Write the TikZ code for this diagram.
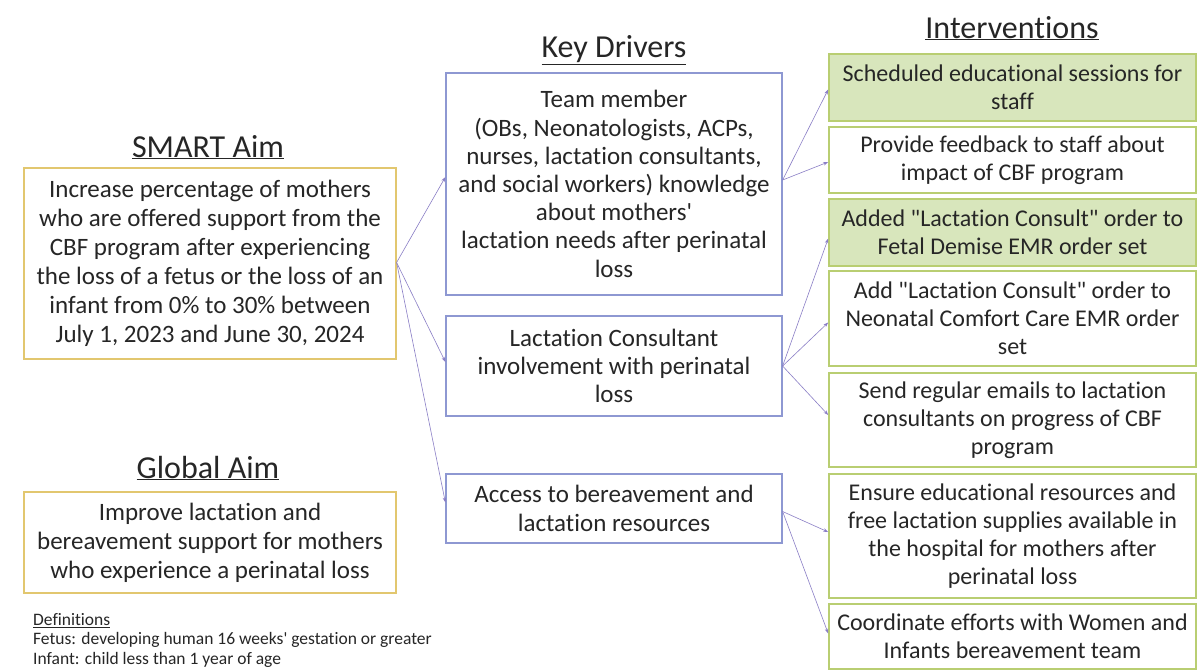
\documentclass[tikz,border=0pt]{standalone}
\usepackage{fontspec}
\setmainfont{Carlito}[Ligatures=NoCommon]
\usetikzlibrary{arrows.meta}
\definecolor{aimborder}{HTML}{E2C76F}
\definecolor{drvborder}{HTML}{8E98D2}
\definecolor{intborder}{HTML}{B9CE72}
\definecolor{intfill}{HTML}{D8E6BC}
\definecolor{linkcol}{HTML}{8A7EC6}
\definecolor{ink}{HTML}{262626}
\newcommand{\sq}{\textquotesingle}
\newcommand{\dq}{\textquotedbl}
\begin{document}
\begin{tikzpicture}[x=1pt,y=-1pt,
  box/.style={draw, line width=1.2pt, align=center, inner sep=0pt, text=ink,
    font=\fontsize{25}{29}\selectfont},
  aimbox/.style={box, draw=aimborder},
  drvbox/.style={box, draw=drvborder, font=\fontsize{25}{28.2}\selectfont},
  intbox/.style={box, draw=intborder, line width=1.6pt, font=\fontsize{24}{28}\selectfont},
  greenbox/.style={intbox, fill=intfill},
  hdr/.style={text=ink, font=\fontsize{32}{34}\selectfont, inner sep=0pt, anchor=base},
  defs/.style={text=ink, font=\fontsize{17.5}{19.5}\selectfont, inner sep=0pt, align=left, anchor=north west},
  link/.style={draw=linkcol, line width=0.6pt, -{Stealth[length=5pt,width=3.5pt]}}
]
\useasboundingbox (0,0) rectangle (1198,669);
\fill[white] (0,0) rectangle (1198,669);

% headings
\node[hdr] (hsmart) at (208,157) {\underline{SMART Aim}};
\node[hdr] (hglobal) at (208,478) {\underline{Global Aim}};
\node[hdr] (hdrivers) at (614,58) {\underline{Key Drivers}};
\node[hdr] (hinterv) at (1012,38) {\underline{Interventions}};

% aims
\node[aimbox, minimum width=372, minimum height=191] (smart) at (210,263.5)
  {Increase percentage of mothers\\who are offered support from the\\CBF program after experiencing\\the loss of a fetus or the loss of an\\infant from 0\% to 30\% between\\July 1, 2023 and June 30, 2024};
\node[aimbox, minimum width=372, minimum height=101] (global) at (210,542.5)
  {Improve lactation and\\bereavement support for mothers\\who experience a perinatal loss};

% definitions
\node[defs] (defs) at (33,613)
  {\underline{Definitions}\\Fetus: developing human 16 weeks\sq\ gestation or greater\\Infant: child less than 1 year of age};

% key drivers
\node[drvbox, minimum width=336, minimum height=222] (kd1) at (614,184)
  {Team member\\(OBs, Neonatologists, ACPs,\\nurses, lactation consultants,\\and social workers) knowledge\\about mothers\sq\\lactation needs after perinatal\\loss};
\node[drvbox, minimum width=336, minimum height=100] (kd2) at (614,366)
  {Lactation Consultant\\involvement with perinatal\\loss};
\node[drvbox, minimum width=336, minimum height=69] (kd3) at (614,508.5)
  {Access to bereavement and\\lactation resources};

% interventions
\node[greenbox, minimum width=367, minimum height=67] (i1) at (1012.5,87.5)
  {Scheduled educational sessions for\\staff};
\node[intbox, minimum width=367, minimum height=66] (i2) at (1012.5,160)
  {Provide feedback to staff about\\impact of CBF program};
\node[greenbox, minimum width=367, minimum height=67] (i3) at (1012.5,232.5)
  {Added \dq Lactation Consult\dq\ order to\\Fetal Demise EMR order set};
\node[intbox, minimum width=367, minimum height=95] (i4) at (1012.5,318.5)
  {Add \dq Lactation Consult\dq\ order to\\Neonatal Comfort Care EMR order\\set};
\node[intbox, minimum width=367, minimum height=94] (i5) at (1012.5,420)
  {Send regular emails to lactation\\consultants on progress of CBF\\program};
\node[intbox, minimum width=367, minimum height=124] (i6) at (1012.5,536)
  {Ensure educational resources and\\free lactation supplies available in\\the hospital for mothers after\\perinatal loss};
\node[intbox, minimum width=367, minimum height=65] (i7) at (1012.5,636.5)
  {Coordinate efforts with Women and\\Infants bereavement team};

% connectors: aim to drivers
\draw[link] ([yshift=1pt]smart.east) -- ([yshift=7pt]kd1.west);
\draw[link] ([yshift=1pt]smart.east) -- ([yshift=4pt]kd2.west);
\draw[link] ([yshift=1pt]smart.east) -- ([yshift=6pt]kd3.west);

% connectors: drivers to interventions
\draw[link] ([yshift=4pt]kd1.east) -- ([yshift=-2pt]i1.west);
\draw[link] ([yshift=4pt]kd1.east) -- ([yshift=-2pt]i2.west);
\draw[link] (kd2.east) -- ([yshift=-6pt]i3.west);
\draw[link] (kd2.east) -- ([yshift=-4pt]i4.west);
\draw[link] (kd2.east) -- ([yshift=5pt]i5.west);
\draw[link] ([yshift=-3pt]kd3.east) -- ([yshift=4pt]i6.west);
\draw[link] ([yshift=-3pt]kd3.east) -- ([yshift=3pt]i7.west);
\end{tikzpicture}
\end{document}
